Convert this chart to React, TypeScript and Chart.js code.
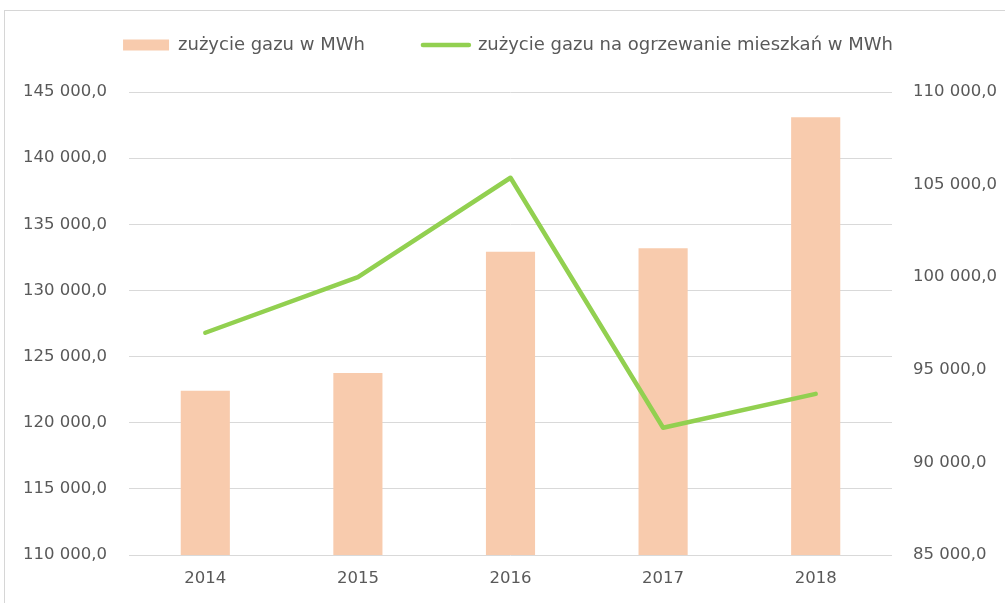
import React, { useEffect, useRef } from "react";
import { Chart, registerables } from "chart.js";

Chart.register(...registerables);

const categories = ["2014", "2015", "2016", "2017", "2018"];
const gasTotal = [122420, 123760, 132930, 133190, 143090];
const gasHeating = [97000, 100000, 105370, 91870, 93700];

const seriesNames = ["zużycie gazu w MWh", "zużycie gazu na ogrzewanie mieszkań w MWh"];

const leftMin = 110000;
const leftMax = 145000;
const rightMin = 85000;
const rightMax = 110000;
const tickStep = 5000;

const BAR_COLOR = "#F8CBAD";
const LINE_COLOR = "#92D050";
const TEXT_COLOR = "#595959";
const GRID_COLOR = "#D9D9D9";
const FONT = "'DejaVu Sans', sans-serif";

const fmt = (v: number) =>
  String(Math.round(v)).replace(/\B(?=(\d{3})+(?!\d))/g, " ") + ",0";

export default function App() {
  const ref = useRef<HTMLCanvasElement | null>(null);

  useEffect(() => {
    document.body.style.margin = "0";
    const canvas = ref.current;
    if (!canvas) return;

    const legendPlugin = {
      id: "legendTweak",
      beforeInit(chart: any) {
        const legend = chart.legend;
        if (legend) {
          const proto = Object.getPrototypeOf(legend);
          legend.fit = function () {
            proto.fit.call(this);
            this.height = 92;
          };
        }
      },
      beforeDraw(chart: any) {
        const legend = chart.legend;
        if (legend) {
          legend.top = 45 - 9 - 58;
          legend.left = 5.5;
          legend.right = 1005 + 5.5;
        }
      },
    };

    const chart = new Chart(canvas, {
      type: "bar",
      data: {
        labels: categories,
        datasets: [
          {
            type: "bar",
            label: seriesNames[0],
            data: gasTotal,
            backgroundColor: BAR_COLOR,
            borderWidth: 0,
            yAxisID: "y",
            order: 1,
            categoryPercentage: 1,
            barPercentage: 0.322,
          } as any,
          {
            type: "line",
            label: seriesNames[1],
            data: gasHeating,
            borderColor: LINE_COLOR,
            backgroundColor: LINE_COLOR,
            borderWidth: 4.5,
            pointRadius: 0,
            pointHoverRadius: 0,
            tension: 0,
            borderCapStyle: "round",
            borderJoinStyle: "round",
            yAxisID: "y1",
            order: 0,
          } as any,
        ],
      },
      options: {
        responsive: false,
        animation: false,
        devicePixelRatio: 1,
        layout: { padding: { top: 0, left: 0, right: 0, bottom: 0 } },
        plugins: {
          tooltip: { enabled: false },
          legend: {
            position: "top",
            labels: {
              usePointStyle: true,
              pointStyleWidth: 46,
              boxHeight: 11,
              padding: 58,
              color: TEXT_COLOR,
              font: { family: FONT, size: 18 },
              generateLabels: (c: any) => {
                const items = (Chart as any).defaults.plugins.legend.labels
                  .generateLabels(c)
                  .sort((a: any, b: any) => a.datasetIndex - b.datasetIndex);
                items.forEach((i: any) => {
                  i.fontColor = TEXT_COLOR;
                  if (i.datasetIndex === 0) {
                    i.pointStyle = "rect";
                    i.fillStyle = BAR_COLOR;
                    i.strokeStyle = BAR_COLOR;
                    i.lineWidth = 0;
                  } else {
                    i.pointStyle = "line";
                    i.strokeStyle = LINE_COLOR;
                    i.fillStyle = LINE_COLOR;
                    i.lineWidth = 4.5;
                    i.lineCap = "round";
                  }
                });
                return items;
              },
            },
          },
        },
        scales: {
          x: {
            grid: { display: false, drawTicks: false },
            border: { display: false },
            ticks: {
              color: TEXT_COLOR,
              font: { family: FONT, size: 16.5 },
              padding: 14,
            },
            afterFit: (s: any) => {
              s.height = 48;
            },
          },
          y: {
            position: "left",
            min: leftMin,
            max: leftMax,
            grid: { color: GRID_COLOR, lineWidth: 1, drawTicks: false },
            border: { display: false },
            ticks: {
              stepSize: tickStep,
              color: TEXT_COLOR,
              font: { family: FONT, size: 16.5 },
              padding: 22,
              callback: (v: any) => fmt(Number(v)),
            },
            afterFit: (s: any) => {
              s.width = 129;
            },
          },
          y1: {
            position: "right",
            min: rightMin,
            max: rightMax,
            grid: { display: false, drawTicks: false },
            border: { display: false },
            ticks: {
              stepSize: tickStep,
              color: TEXT_COLOR,
              font: { family: FONT, size: 16.5 },
              padding: 21,
              callback: (v: any) => fmt(Number(v)),
            },
            afterFit: (s: any) => {
              s.width = 113;
            },
          },
        },
      } as any,
      plugins: [legendPlugin],
    });

    return () => chart.destroy();
  }, []);

  return (
    <div style={{ position: "relative", width: 1005, height: 603, overflow: "hidden", background: "#fff" }}>
      <div
        style={{
          position: "absolute",
          left: 4,
          top: 10,
          width: 1010,
          height: 610,
          border: "1px solid #D6D6D6",
          boxSizing: "border-box",
        }}
      />
      <canvas ref={ref} width={1005} height={603} style={{ position: "absolute", left: 0, top: 0 }} />
    </div>
  );
}
